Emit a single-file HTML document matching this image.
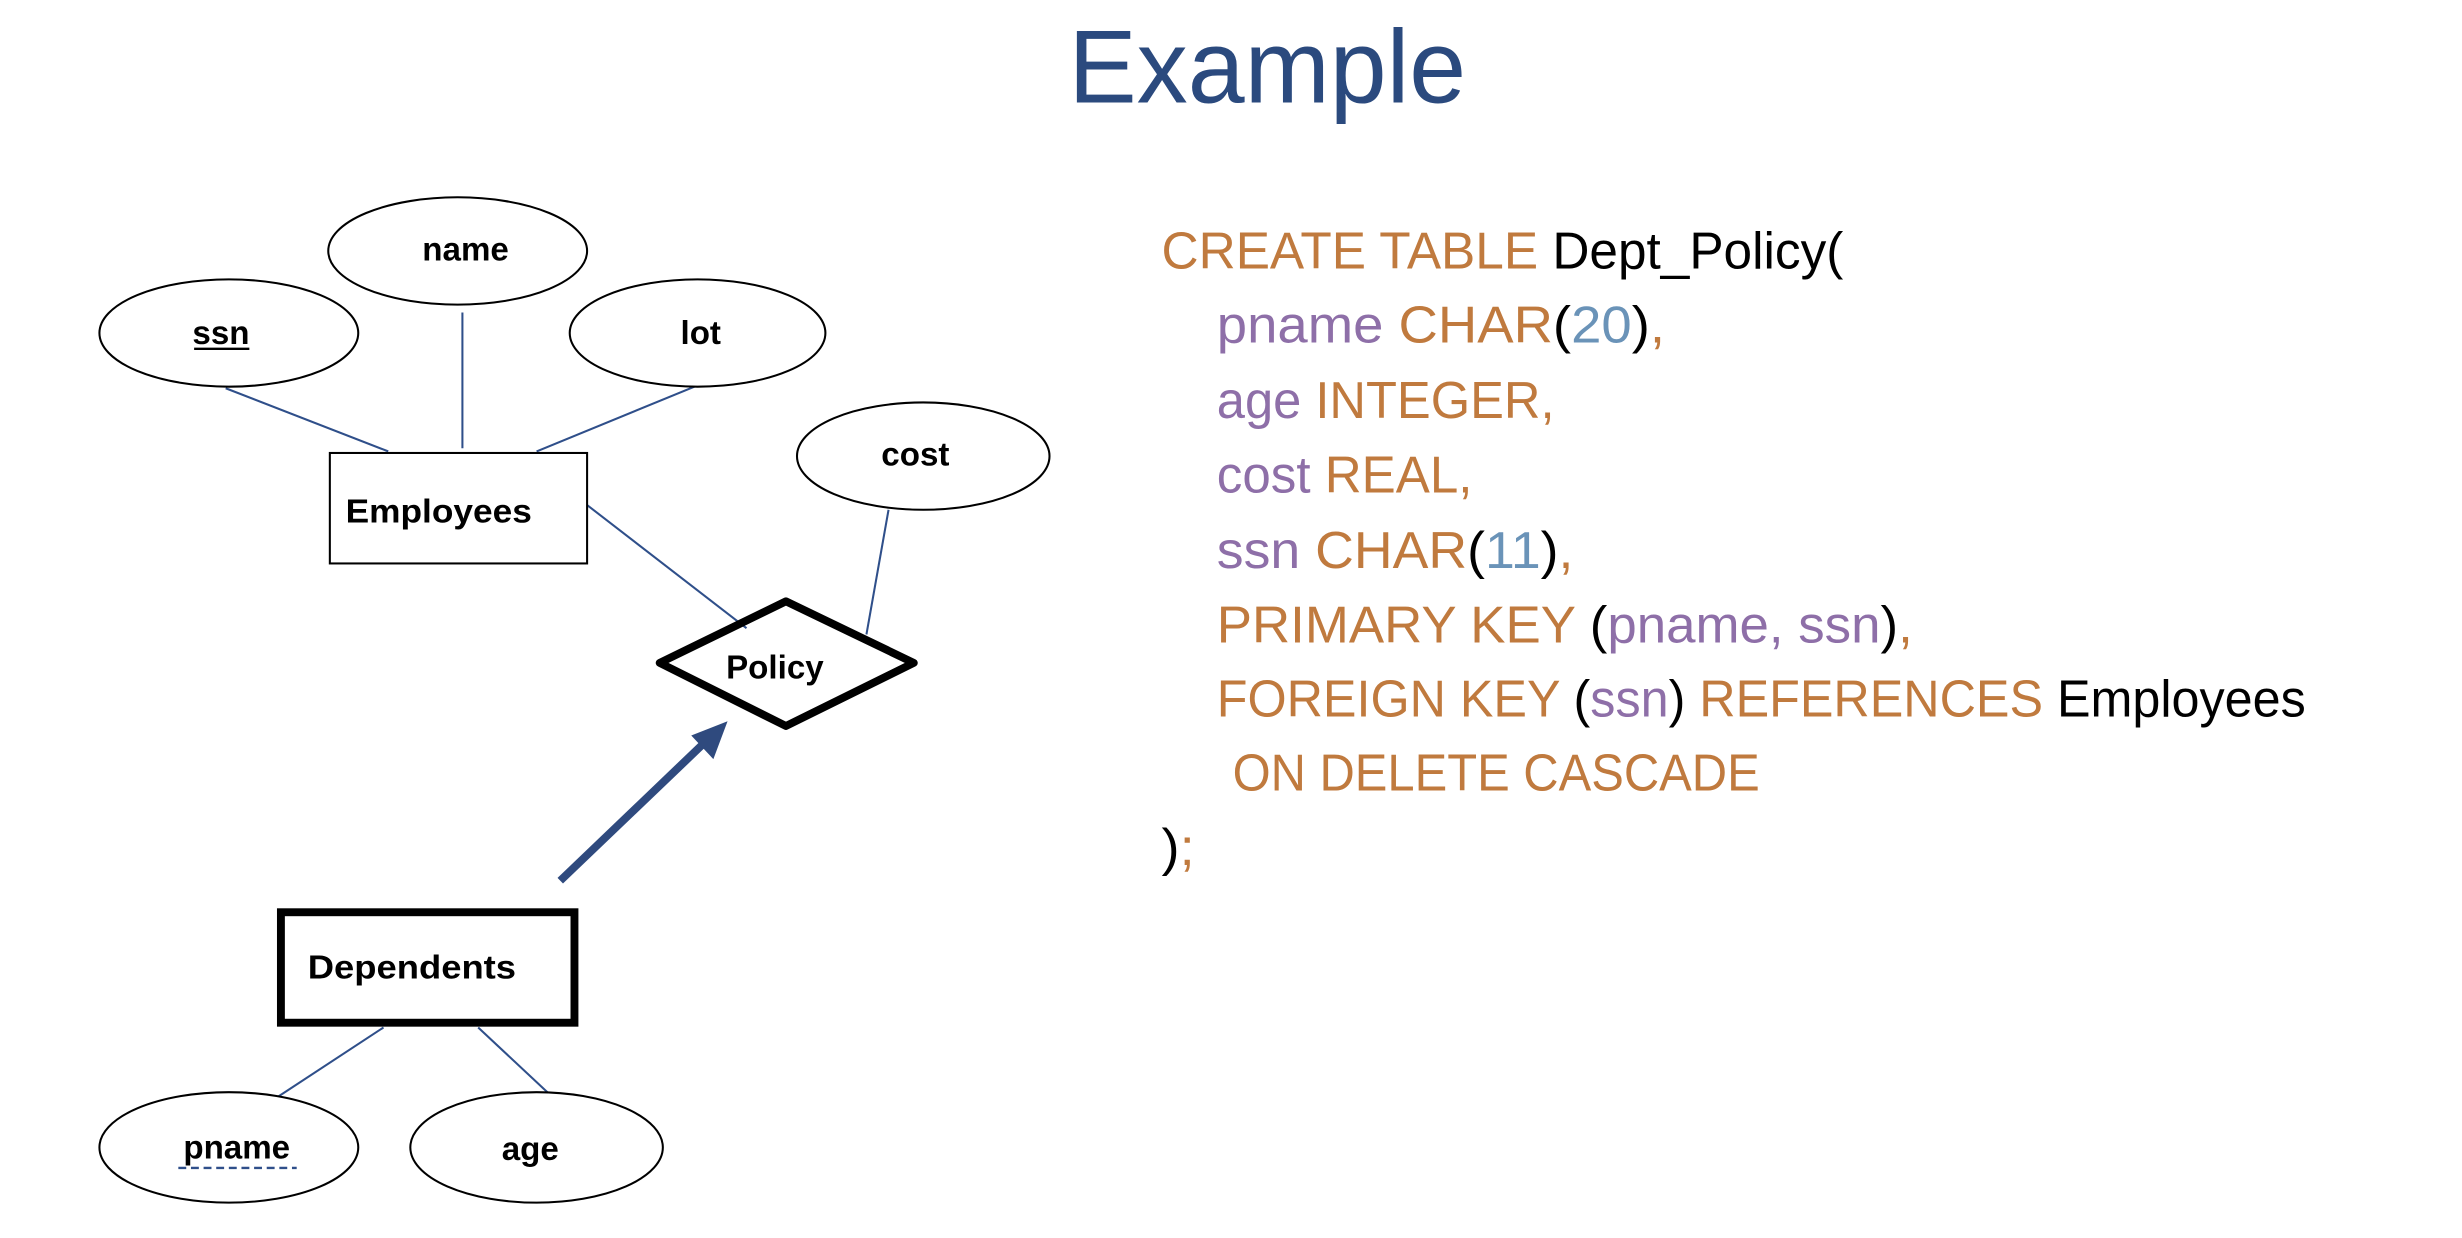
<!DOCTYPE html>
<html><head><meta charset="utf-8"><style>
html,body{margin:0;padding:0;background:#fff;}
svg{display:block;}
</style></head><body>
<svg width="2462" height="1238" viewBox="0 0 1560 784.4" preserveAspectRatio="none" xmlns="http://www.w3.org/2000/svg">
<rect x="0" y="0" width="1560" height="785" fill="#fff"/>
<text x="803" y="65" text-anchor="middle" font-family="Liberation Sans, sans-serif" font-size="66" fill="#2B4A7E" textLength="252" lengthAdjust="spacingAndGlyphs">Example</text>

<g stroke="#2F4F8A" stroke-width="1.3" fill="none">
<line x1="143" y1="246" x2="246" y2="286"/>
<line x1="293" y1="198" x2="293" y2="284"/>
<line x1="440" y1="245" x2="340" y2="286"/>
<line x1="372" y1="320" x2="473" y2="398"/>
<line x1="563" y1="323" x2="549" y2="402"/>
<line x1="243" y1="651" x2="176" y2="695"/>
<line x1="303" y1="651" x2="350" y2="695"/>
</g>
<line x1="355" y1="558" x2="448" y2="469" stroke="#2F4A7E" stroke-width="5"/>
<polygon points="461,457 438,466 452,481" fill="#2F4A7E"/>

<g stroke="#000" stroke-width="1.3" fill="#fff">
<ellipse cx="290" cy="159" rx="82" ry="34"/>
<ellipse cx="145" cy="211" rx="82" ry="34"/>
<ellipse cx="442" cy="211" rx="81" ry="34"/>
<ellipse cx="585" cy="289" rx="80" ry="34"/>
<ellipse cx="145" cy="727" rx="82" ry="35"/>
<ellipse cx="340" cy="727" rx="80" ry="35"/>
<rect x="209" y="287" width="163" height="70"/>
</g>
<rect x="178" y="578" width="186" height="70" fill="none" stroke="#000" stroke-width="5"/>
<polygon points="418,420 498,381 579,420 498,460" fill="none" stroke="#000" stroke-width="5" stroke-linejoin="round"/>

<g font-family="Liberation Sans, sans-serif" font-weight="bold" font-size="21" fill="#000" text-anchor="middle">
<text x="295" y="165">name</text>
<text x="140" y="218">ssn</text>
<text x="444" y="218">lot</text>
<text x="580" y="295">cost</text>
<text x="278" y="331" textLength="118" lengthAdjust="spacingAndGlyphs">Employees</text>
<text x="491" y="430">Policy</text>
<text x="261" y="620" textLength="132" lengthAdjust="spacingAndGlyphs">Dependents</text>
<text x="150" y="734">pname</text>
<text x="336" y="735">age</text>
</g>
<line x1="123" y1="221" x2="158" y2="221" stroke="#000" stroke-width="1.5"/>
<line x1="113" y1="740" x2="188" y2="740" stroke="#2F4F8A" stroke-width="1.5" stroke-dasharray="5,3"/>

<g font-family="Liberation Sans, sans-serif" font-size="33" fill="#C07A3E">
<text x="736" y="170" textLength="432" lengthAdjust="spacingAndGlyphs">CREATE TABLE <tspan fill="#000">Dept_Policy(</tspan></text>
<text x="771" y="217" textLength="284" lengthAdjust="spacingAndGlyphs"><tspan fill="#8E6FA8">pname</tspan> CHAR<tspan fill="#000">(</tspan><tspan fill="#6A93B8">20</tspan><tspan fill="#000">)</tspan>,</text>
<text x="771" y="265" textLength="214" lengthAdjust="spacingAndGlyphs"><tspan fill="#8E6FA8">age</tspan> INTEGER,</text>
<text x="771" y="312" textLength="162" lengthAdjust="spacingAndGlyphs"><tspan fill="#8E6FA8">cost</tspan> REAL,</text>
<text x="771" y="360" textLength="226" lengthAdjust="spacingAndGlyphs"><tspan fill="#8E6FA8">ssn</tspan> CHAR<tspan fill="#000">(</tspan><tspan fill="#6A93B8">11</tspan><tspan fill="#000">)</tspan>,</text>
<text x="771" y="407" textLength="441" lengthAdjust="spacingAndGlyphs">PRIMARY KEY <tspan fill="#000">(</tspan><tspan fill="#8E6FA8">pname, ssn</tspan><tspan fill="#000">)</tspan>,</text>
<text x="771" y="454" textLength="690" lengthAdjust="spacingAndGlyphs">FOREIGN KEY <tspan fill="#000">(</tspan><tspan fill="#8E6FA8">ssn</tspan><tspan fill="#000">)</tspan> REFERENCES <tspan fill="#000">Employees</tspan></text>
<text x="781" y="501" textLength="334" lengthAdjust="spacingAndGlyphs">ON DELETE CASCADE</text>
<text x="736" y="548" textLength="21" lengthAdjust="spacingAndGlyphs"><tspan fill="#000">)</tspan>;</text>
</g>
</svg>
</body></html>
